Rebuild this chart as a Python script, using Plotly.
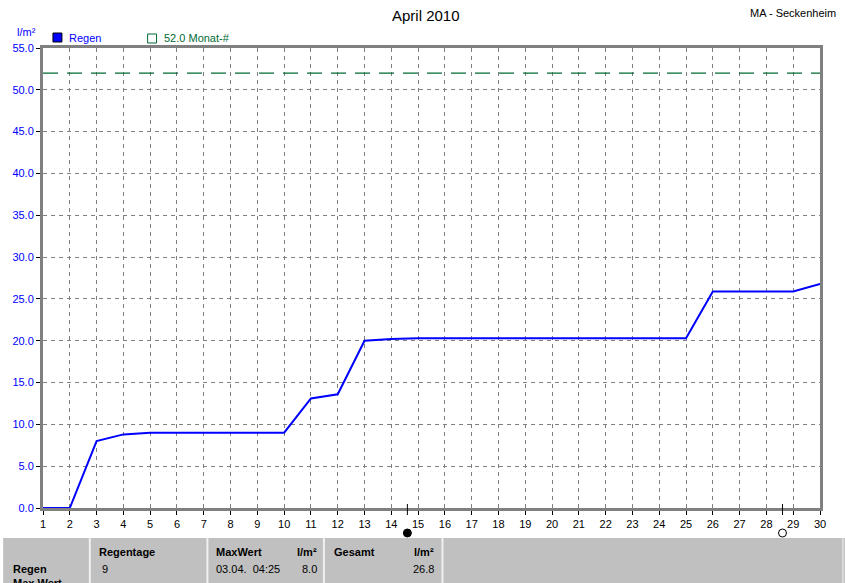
import plotly.graph_objects as go

# ---- data ----
days = list(range(1, 31))
regen = [0.0, 0.0, 8.0, 8.8, 9.0, 9.0, 9.0, 9.0, 9.0, 9.0,
         13.1, 13.6, 20.0, 20.2, 20.3, 20.3, 20.3, 20.3, 20.3, 20.3,
         20.3, 20.3, 20.3, 20.3, 20.3, 25.9, 25.9, 25.9, 25.9, 26.8]
monat_mittel = 52.0
y_ticks = [0, 5, 10, 15, 20, 25, 30, 35, 40, 45, 50, 55]
full_moon_day = [14.6]
new_moon_day = [28.6]

W, H = 845, 583
L, R, T, B = 40, 820, 48, 508  # plot area pixels


def px(x):
    return (x - L) / (R - L)


def py(y):
    return (B - y) / (B - T)


FONT = "Liberation Sans, Arial, sans-serif"
BLUE = "#0000ff"
GREEN = "#006b35"
GRAY = "#808080"

fig = go.Figure()
fig.add_trace(go.Scatter(x=days, y=regen, mode="lines",
                         line=dict(color=BLUE, width=2), showlegend=False,
                         hoverinfo="x+y"))
fig.add_trace(go.Scatter(x=[days[0], days[-1]], y=[monat_mittel, monat_mittel],
                         mode="lines", line=dict(color=GREEN, width=1.2, dash="15px,9px"),
                         showlegend=False, hoverinfo="skip"))

shapes = []
annotations = []

# moon markers
for d in full_moon_day:
    shapes.append(dict(type="line", xref="x", yref="paper", x0=d, x1=d,
                       y0=py(504), y1=py(515), line=dict(color="black", width=1)))
    shapes.append(dict(type="circle", xref="x", yref="paper",
                       x0=d - 4 / 26.9, x1=d + 4 / 26.9, y0=py(537), y1=py(529),
                       fillcolor="black", line=dict(color="black", width=1)))
for d in new_moon_day:
    shapes.append(dict(type="line", xref="x", yref="paper", x0=d, x1=d,
                       y0=py(504), y1=py(515), line=dict(color="black", width=1)))
    shapes.append(dict(type="circle", xref="x", yref="paper",
                       x0=d - 4 / 26.9, x1=d + 4 / 26.9, y0=py(537), y1=py(529),
                       fillcolor="white", line=dict(color="black", width=1)))

# legend
shapes.append(dict(type="rect", xref="paper", yref="paper", x0=px(50), x1=px(59),
                   y0=py(42), y1=py(33), fillcolor=BLUE, line=dict(color="black", width=1)))
shapes.append(dict(type="rect", xref="paper", yref="paper", x0=px(145), x1=px(154),
                   y0=py(43), y1=py(34), fillcolor="rgba(0,0,0,0)", line=dict(color=GREEN, width=1)))
annotations.append(dict(text="Regen", xref="paper", yref="paper", x=px(64), y=py(38),
                        xanchor="left", yanchor="middle", showarrow=False,
                        font=dict(family=FONT, size=11, color=BLUE)))
annotations.append(dict(text="52.0 Monat-#", xref="paper", yref="paper", x=px(159), y=py(38),
                        xanchor="left", yanchor="middle", showarrow=False,
                        font=dict(family=FONT, size=11, color=GREEN)))
annotations.append(dict(text="l/m²", xref="paper", yref="paper", x=px(12), y=py(32),
                        xanchor="left", yanchor="middle", showarrow=False,
                        font=dict(family=FONT, size=11, color=BLUE)))
annotations.append(dict(text="April 2010", xref="paper", yref="paper", x=px(424), y=py(15),
                        xanchor="center", yanchor="middle", showarrow=False,
                        font=dict(family=FONT, size=15, color="black")))
annotations.append(dict(text="MA - Seckenheim", xref="paper", yref="paper", x=px(838), y=py(13),
                        xanchor="right", yanchor="middle", showarrow=False,
                        font=dict(family=FONT, size=11, color="black")))

# bottom table
shapes.append(dict(type="rect", xref="paper", yref="paper", x0=px(0), x1=px(845),
                   y0=py(583), y1=py(538), fillcolor="#c0c0c0", line=dict(width=0), layer="below"))
for sx in [87, 205, 322, 441]:
    shapes.append(dict(type="line", xref="paper", yref="paper", x0=px(sx), x1=px(sx),
                       y0=py(583), y1=py(538), line=dict(color="#f0f0f0", width=2)))
shapes.append(dict(type="line", xref="paper", yref="paper", x0=px(843), x1=px(843),
                   y0=py(583), y1=py(538), line=dict(color="#f0f0f0", width=1)))


def txt(s, x, y, anchor="left", bold=False):
    annotations.append(dict(text=("<b>%s</b>" % s) if bold else s, xref="paper", yref="paper",
                            x=px(x), y=py(y), xanchor=anchor, yanchor="middle", showarrow=False,
                            font=dict(family=FONT, size=11, color="black")))


txt("Regen", 8, 569, bold=True)
txt("Max Wert", 8, 583, bold=True)
txt("Regentage", 94, 552, bold=True)
txt("9", 97, 569)
txt("MaxWert", 212, 552, bold=True)
txt("l/m²", 317, 552, anchor="right", bold=True)
txt("03.04.  04:25", 212, 569)
txt("8.0", 317, 569, anchor="right")
txt("Gesamt", 330, 552, bold=True)
txt("l/m²", 435, 552, anchor="right", bold=True)
txt("26.8", 435, 569, anchor="right")

fig.update_layout(
    width=W, height=H,
    margin=dict(l=L, r=W - R, t=T, b=H - B),
    paper_bgcolor="white", plot_bgcolor="white",
    shapes=shapes, annotations=annotations,
    showlegend=False,
    font=dict(family=FONT, size=11, color="black"),
    xaxis=dict(range=[1, 30], tickmode="array", tickvals=days, ticktext=[str(d) for d in days],
               showgrid=True, gridcolor=GRAY, griddash="4px,4px", gridwidth=1,
               showline=True, linecolor=GRAY, linewidth=3, mirror=True,
               ticks="outside", ticklen=4, tickcolor="black", zeroline=False,
               tickfont=dict(family=FONT, size=11, color="black")),
    yaxis=dict(range=[0, 55], tickmode="array", tickvals=y_ticks,
               ticktext=["%.1f" % v for v in y_ticks],
               showgrid=True, gridcolor=GRAY, griddash="4px,4px", gridwidth=1,
               showline=True, linecolor=GRAY, linewidth=3, mirror=True,
               ticks="outside", ticklen=4, tickcolor="black", zeroline=False,
               tickfont=dict(family=FONT, size=11, color=BLUE)),
)

fig.write_html("out.html", config={"displayModeBar": False},
               post_script="document.body.style.margin='0';document.body.style.overflow='hidden';")
